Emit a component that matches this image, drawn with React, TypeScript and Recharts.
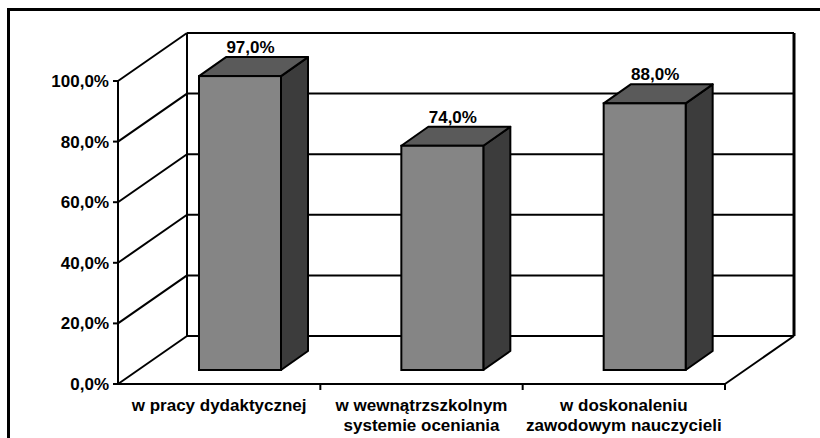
import React from 'react';
import { BarChart, Bar, XAxis, YAxis, CartesianGrid, LabelList } from 'recharts';

const categories = [
  'w pracy dydaktycznej',
  'w wewnątrzszkolnym\nsystemie oceniania',
  'w doskonaleniu\nzawodowym nauczycieli',
];
const values = [97.0, 74.0, 88.0];
const yTicks = [0, 20, 40, 60, 80, 100];

const data = categories.map((name, i) => ({ name, value: values[i] }));

const FONT = '"Liberation Sans", Arial, sans-serif';
// depth of the back wall (px)
const WALL_DX = 69;
const WALL_DY = -48;
// bar front face offset into the depth, and bar depth
const FX = 21;
const FY = -14;
const BX = 27;
const BY = -19;

const pct = (v: number) => v.toFixed(1).replace('.', ',') + '%';

function GridLine(props: any) {
  const { x1, x2, y1, index } = props;
  const bottom = props.y != null && props.height != null ? props.y + props.height : null;
  const isTop = props.y != null && Math.abs(y1 - props.y) < 0.5;
  const isBottom = bottom != null && Math.abs(y1 - bottom) < 0.5;
  return (
    <g key={`g-${index}`}>
      <line x1={x1} y1={y1} x2={x1 + WALL_DX} y2={y1 + WALL_DY} stroke="#000" strokeWidth={2} />
      <line x1={x1 + WALL_DX} y1={y1 + WALL_DY} x2={x2 + WALL_DX} y2={y1 + WALL_DY} stroke="#000" strokeWidth={2} />
      {isBottom && (
        <line x1={x2} y1={y1} x2={x2 + WALL_DX} y2={y1 + WALL_DY} stroke="#000" strokeWidth={2} />
      )}
      {isTop && bottom != null && (
        <>
          <line x1={x1 + WALL_DX} y1={y1 + WALL_DY} x2={x1 + WALL_DX} y2={bottom + WALL_DY} stroke="#000" strokeWidth={2} />
          <line x1={x2 + WALL_DX} y1={y1 + WALL_DY} x2={x2 + WALL_DX} y2={bottom + WALL_DY} stroke="#000" strokeWidth={3} />
        </>
      )}
    </g>
  );
}

function Bar3D(props: any) {
  const { x, y, width, height } = props;
  const fx = x + FX;
  const fy = y + FY;
  const top = `${fx},${fy} ${fx + BX},${fy + BY} ${fx + width + BX},${fy + BY} ${fx + width},${fy}`;
  const side = `${fx + width},${fy} ${fx + width + BX},${fy + BY} ${fx + width + BX},${fy + height + BY} ${fx + width},${fy + height}`;
  return (
    <g>
      <polygon points={side} fill="#3c3c3c" stroke="#000" strokeWidth={2} strokeLinejoin="round" />
      <polygon points={top} fill="#5a5a5a" stroke="#000" strokeWidth={2} strokeLinejoin="round" />
      <rect x={fx} y={fy} width={width} height={height} fill="#858585" stroke="#000" strokeWidth={2} />
    </g>
  );
}

function ValueLabel(props: any) {
  const { x, y, width, value } = props;
  return (
    <text
      x={x + width / 2 + FX + BX / 2 - 3}
      y={y + FY + BY - 4}
      textAnchor="middle"
      fontFamily={FONT}
      fontWeight="bold"
      fontSize={17}
      fill="#000"
    >
      {pct(value)}
    </text>
  );
}

function CategoryTick(props: any) {
  const { x, y, payload, width, visibleTicksCount } = props;
  const half = payload.offset ? payload.offset : width / (visibleTicksCount || categories.length) / 2;
  const lines = String(payload.value).split('\n');
  return (
    <g>
      <line x1={x + half} y1={y - 8} x2={x + half} y2={y - 2} stroke="#000" strokeWidth={2} />
      <text textAnchor="middle" fontFamily={FONT} fontWeight="bold" fontSize={17} fill="#000">
        {lines.map((t, i) => (
          <tspan key={i} x={x} y={y + 19 + i * 20}>
            {t}
          </tspan>
        ))}
      </text>
    </g>
  );
}

export default function App() {
  return (
    <div style={{ position: 'absolute', left: 0, top: 0, width: 820, height: 438, overflow: 'hidden', background: '#fff' }}>
      <div
        style={{
          position: 'absolute',
          left: 7,
          top: 8,
          width: 820,
          height: 440,
          borderTop: '3px solid #000',
          borderLeft: '3px solid #000',
        }}
      />
      <div style={{ position: 'absolute', left: 0, top: 0 }}>
        <BarChart width={820} height={438} data={data} margin={{ top: 81, right: 95, bottom: 0, left: 0 }}>
          <CartesianGrid vertical={false} horizontal={(p: any) => <GridLine {...p} />} />
          <XAxis
            dataKey="name"
            interval={0}
            tickLine={false}
            axisLine={{ stroke: '#000', strokeWidth: 2 }}
            tick={<CategoryTick />}
            height={54}
          />
          <YAxis
            width={118}
            domain={[0, 100]}
            ticks={yTicks}
            tickFormatter={pct}
            axisLine={{ stroke: '#000', strokeWidth: 2 }}
            tickLine={{ stroke: '#000', strokeWidth: 2 }}
            tickSize={5}
            tickMargin={4}
            tick={{ fontFamily: FONT, fontWeight: 'bold', fontSize: 17, fill: '#000' }}
          />
          <Bar dataKey="value" barSize={82} shape={<Bar3D />} isAnimationActive={false}>
            <LabelList dataKey="value" content={<ValueLabel />} />
          </Bar>
        </BarChart>
      </div>
    </div>
  );
}
